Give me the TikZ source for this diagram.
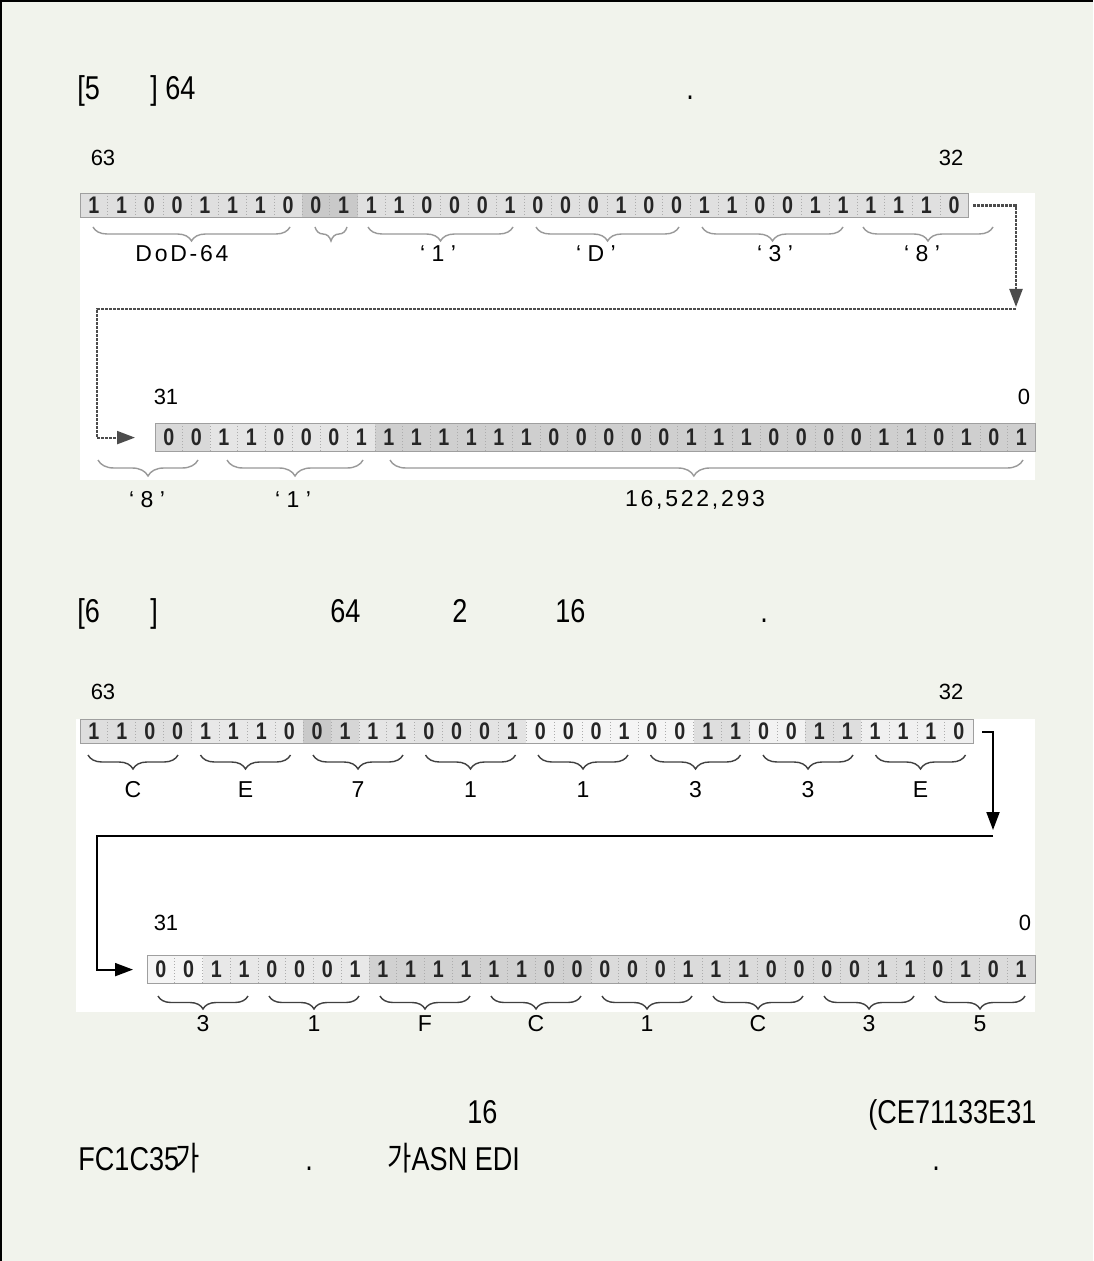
\documentclass[tikz,border=0pt]{standalone}
\usepackage{fontspec}
\setmainfont{Liberation Sans}
\newfontfamily\bodyfont[FakeStretch=0.82]{Liberation Sans}
\newfontfamily\krfont[FakeStretch=0.8]{Noto Sans CJK KR}
\newfontfamily\spacedfont[LetterSpace=12]{Liberation Sans}
\usetikzlibrary{arrows.meta, decorations.pathreplacing}
\definecolor{pagebg}{RGB}{241,243,236}

\begin{document}
\begin{tikzpicture}[x=0.5pt, y=-0.5pt,
  body/.style={font=\bodyfont\fontsize{16.5}{18}\selectfont, anchor=base west, inner sep=0pt},
  idx/.style={font=\fontsize{11}{12}\selectfont, inner sep=0pt},
  bitnum/.style={font=\bodyfont\bfseries\fontsize{12}{12}\selectfont, text=black!85, inner sep=0pt},
  rowframe/.style={draw=gray!75, line width=0.6pt, inner sep=0pt, anchor=north west},
  sep/.style={gray!65, densely dotted, line width=0.5pt},
  lblA/.style={font=\fontsize{11.5}{12}\selectfont, inner sep=0pt},
  lblB/.style={font=\fontsize{11.5}{12}\selectfont, inner sep=0pt},
  braceA/.style={decorate, decoration={brace, amplitude=7pt}, gray!80, line width=0.7pt},
  braceB/.style={decorate, decoration={brace, amplitude=7pt}, black!75, line width=0.7pt},
  linkA/.style={black!70, line width=1.1pt, dash pattern=on 1.5pt off 0.5pt},
  linkB/.style={black, line width=1pt},
  >={Triangle[length=9pt, width=6.5pt]}
]
\useasboundingbox (0,0) rectangle (1093,1261);
\fill[pagebg] (0,0) rectangle (1093,1261);
\draw[line width=1pt] (1,1261) -- (1,1) -- (1093,1);

% captions
\node[body] (capA)  at (77,100)  {[5};
\node[body] (capA2) at (150,100) {] 64};
\node[body] (capA3) at (686,100) {.};
\node[body] (capB)  at (77,622)  {[6};
\node[body] (capB2) at (150,622) {]};
\node[body] (capB3) at (330,622) {64};
\node[body] (capB4) at (452,622) {2};
\node[body] (capB5) at (555,622) {16};
\node[body] (capB6) at (760,622) {.};

% white panels
\fill[white] (80,193) rectangle (1035,480);
\fill[white] (76,719) rectangle (1035,1012);

% ---- first figure: bits 63..32
\node[idx] (hiA) at (103,158) {63};
\node[idx] (loA) at (951,158) {32};
\fill[gray!25] (80,193) rectangle (302,217);
\fill[gray!42] (302,193) rectangle (357.5,217);
\fill[gray!24] (357.5,193) rectangle (968,217);
\foreach \i in {1,...,31} \draw[sep] ({80+27.75*\i},193) -- ++(0,24);
\foreach \b [count=\i from 0] in {1,1,0,0,1,1,1,0,0,1,1,1,0,0,0,1,0,0,0,1,0,0,1,1,0,0,1,1,1,1,1,0}
  \node[bitnum] (a\i) at ({80+27.75*(\i+0.5)},205) {\b};
\node[rowframe, minimum width=444pt, minimum height=12pt] (rowA) at (80,193) {};

\draw[braceA] (290,227) -- (93,227);
\draw[braceA] (347,227) -- (315,227);
\draw[braceA] (513,227) -- (368,227);
\draw[braceA] (679,227) -- (536,227);
\draw[braceA] (843,227) -- (702,227);
\draw[braceA] (993,227) -- (863,227);
\node[lblA] (tagDoD) at (182,254) {\spacedfont DoD-64};
\node[lblA] (tag1)   at (438,254) {‘ 1 ’};
\node[lblA] (tagD)   at (596,254) {‘ D ’};
\node[lblA] (tag3)   at (775,254) {‘ 3 ’};
\node[lblA] (tag8)   at (922,254) {‘ 8 ’};

% ---- first figure: bits 31..0
\node[idx] (hiB) at (166,397) {31};
\node[idx] (loB) at (1024,397) {0};
\fill[gray!30] (155,423) rectangle (210,451);
\fill[gray!20] (210,423) rectangle (375,451);
\fill[gray!38] (375,423) rectangle (1035,451);
\foreach \i in {1,...,31} \draw[sep] ({155+27.5*\i},423) -- ++(0,28);
\foreach \b [count=\i from 0] in {0,0,1,1,0,0,0,1,1,1,1,1,1,1,0,0,0,0,0,1,1,1,0,0,0,0,1,1,0,1,0,1}
  \node[bitnum] (b\i) at ({155+27.5*(\i+0.5)},437) {\b};
\node[rowframe, minimum width=440pt, minimum height=14pt] (rowB) at (155,423) {};

\draw[braceA, decoration={amplitude=8pt}] (198,460) -- (98,460);
\draw[braceA, decoration={amplitude=8pt}] (363,460) -- (227,460);
\draw[braceA, decoration={amplitude=8pt, aspect=0.52}] (1023,460) -- (390,460);
\node[lblA] (tag8b)  at (147,500) {‘ 8 ’};
\node[lblA] (tag1b)  at (293,500) {‘ 1 ’};
\node[lblA] (tagnum) at (695,500) {\spacedfont 16,522,293};

\coordinate (dropA) at (1016,307);
\coordinate (backA) at (1016,309);
\coordinate (turnA) at (97,309);
\draw[linkA, ->, shorten <=2pt] (rowA.east) -| (dropA);
\draw[linkA, ->, shorten >=10pt] (backA) -- (turnA) |- (rowB.west);

% ---- second figure: bits 63..32
\node[idx] (hiC) at (103,692) {63};
\node[idx] (loC) at (951,692) {32};
\fill[gray!26] (80,719) rectangle (191.6,743);
\fill[gray!18] (191.6,719) rectangle (303.2,743);
\fill[gray!42] (303.2,719) rectangle (331.1,743);
\fill[gray!32] (331.1,719) rectangle (359,743);
\fill[gray!20] (359,719) rectangle (414.8,743);
\fill[gray!22] (414.8,719) rectangle (526.4,743);
\fill[gray!8]  (526.4,719) rectangle (693.8,743);
\fill[gray!26] (693.8,719) rectangle (749.6,743);
\fill[gray!10] (749.6,719) rectangle (805.4,743);
\fill[gray!26] (805.4,719) rectangle (861.2,743);
\fill[gray!12] (861.2,719) rectangle (972.8,743);
\foreach \i in {1,...,31} \draw[sep] ({80+27.9*\i},719) -- ++(0,24);
\foreach \b [count=\i from 0] in {1,1,0,0,1,1,1,0,0,1,1,1,0,0,0,1,0,0,0,1,0,0,1,1,0,0,1,1,1,1,1,0}
  \node[bitnum] (c\i) at ({80+27.9*(\i+0.5)},731) {\b};
\node[rowframe, minimum width=446.4pt, minimum height=12pt] (rowC) at (80,719) {};

\foreach \t [count=\k from 0] in {C,E,7,1,1,3,3,E} {
  \draw[braceB] ({178+112.5*\k},755) -- ({88+112.5*\k},755);
  \node[lblB] (hexC\k) at ({133+112.5*\k},790) {\t};
}

% ---- second figure: bits 31..0
\node[idx] (hiD) at (166,923) {31};
\node[idx] (loD) at (1025,923) {0};
\fill[gray!8]  (147,955) rectangle (202.5,983);
\fill[gray!18] (202.5,955) rectangle (369,983);
\fill[gray!36] (369,955) rectangle (591,983);
\fill[gray!28] (591,955) rectangle (1035,983);
\foreach \i in {1,...,31} \draw[sep] ({147+27.75*\i},955) -- ++(0,28);
\foreach \b [count=\i from 0] in {0,0,1,1,0,0,0,1,1,1,1,1,1,1,0,0,0,0,0,1,1,1,0,0,0,0,1,1,0,1,0,1}
  \node[bitnum] (d\i) at ({147+27.75*(\i+0.5)},969) {\b};
\node[rowframe, minimum width=444pt, minimum height=14pt] (rowD) at (147,955) {};

\foreach \t [count=\k from 0] in {3,1,F,C,1,C,3,5} {
  \draw[braceB, decoration={amplitude=6.5pt}] ({248+111*\k},996) -- ({158+111*\k},996);
  \node[lblB] (hexD\k) at ({203+111*\k},1024) {\t};
}

\coordinate (dropC) at (993,830);
\coordinate (backC) at (993,836);
\coordinate (turnC) at (97,836);
\draw[linkB, ->, shorten <=4pt] (rowC.east) -| (dropC);
\draw[linkB, ->, shorten >=7pt] (backC) -- (turnC) |- (rowD.west);

% closing text
\node[body] (endA)  at (467,1123) {16};
\node[body] (endA2) at (868,1123) {(CE71133E31};
\node[body] (endB)  at (78,1170)  {FC1C35\kern-2pt{\krfont 가}};
\node[body] (endB2) at (305,1170) {.};
\node[body] (endB3) at (387,1170) {{\krfont 가}ASN EDI};
\node[body] (endB4) at (932,1170) {.};
\end{tikzpicture}
\end{document}
